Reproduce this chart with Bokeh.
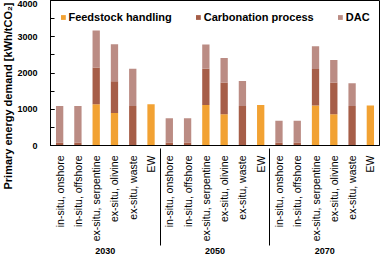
import math
from bokeh.plotting import figure
from bokeh.models import FactorRange, SingleIntervalTicker, ColumnDataSource, Title
from bokeh.embed import file_html
from bokeh.resources import INLINE

years = ["2030", "2050", "2070"]
routes = ["in-situ, onshore", "in-situ, offshore", "ex-situ, serpentine",
          "ex-situ, olivine", "ex-situ, waste", "EW"]

feedstock_2030 = [0, 0, 1140, 900, 0, 1140]
feedstock_2050 = [0, 0, 1115, 865, 0, 1115]
feedstock_2070 = [0, 0, 1105, 865, 0, 1105]

carbonation_2030 = [80, 80, 1010, 875, 1090, 0]
carbonation_2050 = [80, 80, 1000, 870, 1090, 0]
carbonation_2070 = [80, 80, 1005, 870, 1090, 0]

dac_2030 = [1010, 1010, 1025, 1015, 1030, 0]
dac_2050 = [670, 670, 670, 680, 690, 0]
dac_2070 = [605, 605, 625, 625, 625, 0]

series_names = ["Feedstock handling", "Carbonation process", "DAC"]
colors = ["#F2A233", "#A65E48", "#BB8C84"]
y_title = "Primary energy demand [kWh/tCO\u2082]"

FONT = "Liberation Sans"

factors = [(y, r) for y in years for r in routes]
src = ColumnDataSource(dict(
    x=factors,
    feed=feedstock_2030 + feedstock_2050 + feedstock_2070,
    carb=carbonation_2030 + carbonation_2050 + carbonation_2070,
    dac=dac_2030 + dac_2050 + dac_2070,
))

p = figure(
    x_range=FactorRange(*factors, range_padding=0, group_padding=0, factor_padding=0),
    y_range=(0, 4000),
    width=380, height=257,
    output_backend="svg", toolbar_location=None,
    min_border_top=0, min_border_right=1, min_border_left=39, min_border_bottom=0,
)

p.vbar_stack(["feed", "carb", "dac"], x="x", width=0.4, color=colors,
             source=src, legend_label=series_names, line_width=0)

p.xgrid.grid_line_color = None
p.ygrid.grid_line_color = None
p.outline_line_color = "black"
p.outline_line_alpha = 1
p.outline_line_width = 1

# y axis
p.yaxis.ticker = SingleIntervalTicker(interval=1000, num_minor_ticks=2)
p.yaxis.major_tick_in = 4
p.yaxis.major_tick_out = 0
p.yaxis.minor_tick_in = 4
p.yaxis.minor_tick_out = 0
p.yaxis.major_tick_line_color = "black"
p.yaxis.minor_tick_line_color = "black"
p.yaxis.axis_line_color = "black"
p.yaxis.major_label_text_font = FONT
p.yaxis.major_label_text_font_style = "bold"
p.yaxis.major_label_text_font_size = "9px"
p.yaxis.major_label_text_color = "black"
p.yaxis.major_label_standoff = 13

# y title: longer than the frame; anchored at the frame top and running down past the frame
p.add_layout(Title(text=y_title, align="right", offset=2, standoff=0,
                   vertical_align="middle",
                   text_font=FONT, text_font_style="bold", text_font_size="11px",
                   text_color="black"), "left")

# x axis
p.xaxis.major_tick_line_color = None
p.xaxis.minor_tick_line_color = None
p.xaxis.axis_line_color = "black"
p.xaxis.major_label_orientation = math.pi / 2
p.xaxis.major_label_text_font = FONT
p.xaxis.major_label_text_font_size = "10.5px"
p.xaxis.major_label_text_color = "black"
p.xaxis.major_label_standoff = 4
p.xaxis.group_text_font = FONT
p.xaxis.group_text_font_style = "bold"
p.xaxis.group_text_font_size = "9px"
p.xaxis.group_text_color = "black"
p.xaxis.separator_line_color = "black"
p.xaxis.separator_line_width = 1

# legend
lg = p.legend[0]
lg.orientation = "horizontal"
lg.location = "top_center"
lg.border_line_alpha = 0
lg.background_fill_alpha = 0
lg.label_text_font = FONT
lg.label_text_font_style = "bold"
lg.label_text_font_size = "11px"
lg.label_text_color = "black"
lg.glyph_width = 6
lg.glyph_height = 6
lg.label_standoff = 3
lg.spacing = 23
lg.padding = 0
lg.margin = 11
lg.label_height = 12

open("out.html", "w").write(file_html(p, INLINE))
